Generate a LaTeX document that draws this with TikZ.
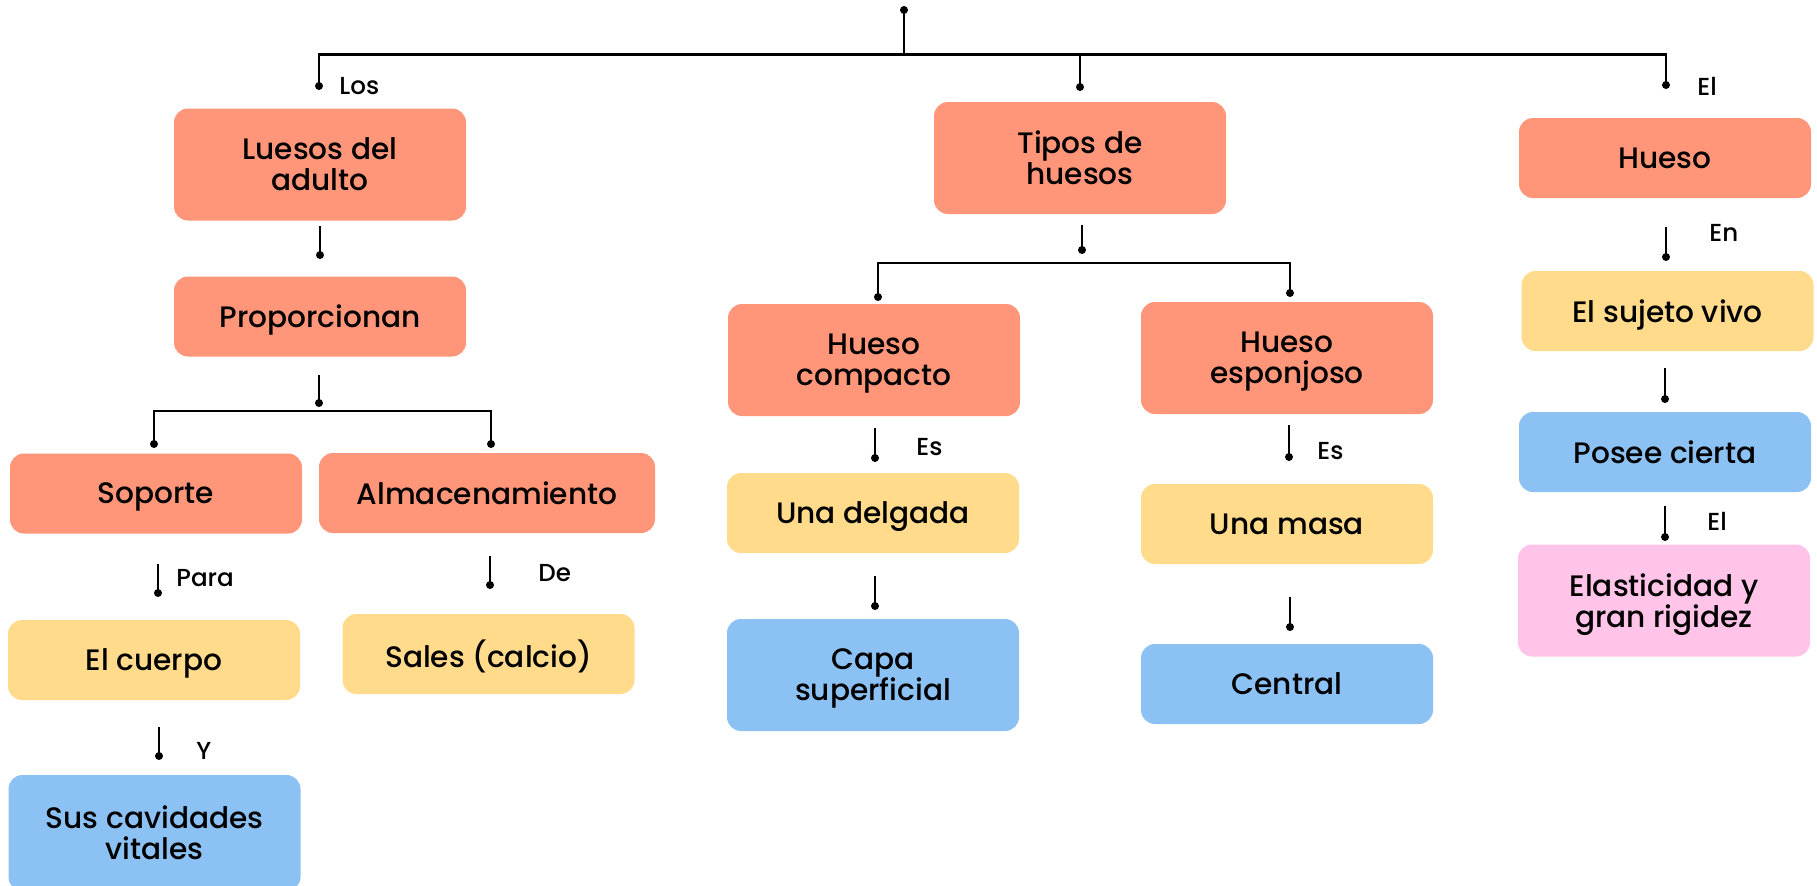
\documentclass[tikz,border=0pt]{standalone}
\usepackage{fontspec}
\setmainfont{Poppins}[UprightFont={* Medium}]
\definecolor{salmon}{RGB}{255,150,122}
\definecolor{yel}{RGB}{255,219,139}
\definecolor{blu}{RGB}{140,193,243}
\definecolor{pnk}{RGB}{255,196,232}
\tikzset{
  box/.style={rectangle, rounded corners=7pt, draw=none, minimum width=146pt, align=center, inner sep=2pt,
    text depth=0pt, font=\fontsize{14.8pt}{15.5pt}\selectfont, text=black},
  hs/.style={box, minimum height=40pt},
  ht/.style={box, minimum height=56pt},
  red/.style={fill=salmon}, yw/.style={fill=yel}, bl/.style={fill=blu}, pk/.style={fill=pnk},
  conn/.style={line width=1.2pt, black},
  dotend/.style={circle, fill=black, inner sep=0pt, minimum size=4pt},
  lbl/.style={font=\fontsize{12.3pt}{14pt}\selectfont, inner sep=0pt, anchor=west}
}
\begin{document}
\begin{tikzpicture}[x=0.5pt,y=-0.5pt]
\useasboundingbox[fill=white] (0,0) rectangle (1817,885);
% boxes
\node[ht,red] (luesos) at (320,164.5) {Luesos del\\adulto};
\node[hs,red] (prop) at (320,316.5) {Proporcionan};
\node[hs,red] (soporte) at (156,493.5) {Soporte};
\node[hs,red,minimum width=168pt] (almac) at (487,493) {Almacenamiento};
\node[hs,yw] (cuerpo) at (154,660) {El cuerpo};
\node[hs,yw] (sales) at (488.5,654) {Sales (calcio)};
\node[box,bl,minimum height=58pt] (cav) at (154.5,833) {Sus cavidades\\vitales};
\node[ht,red] (tipos) at (1080,158) {Tipos de\\huesos};
\node[ht,red] (compacto) at (874,360) {Hueso\\compacto};
\node[ht,red] (esponjoso) at (1287,358) {Hueso\\esponjoso};
\node[hs,yw] (delgada) at (873,513) {Una delgada};
\node[ht,bl] (capa) at (873,675) {Capa\\superficial};
\node[hs,yw] (masa) at (1287,524) {Una masa};
\node[hs,bl] (central) at (1287,684) {Central};
\node[hs,red] (hueso) at (1665,158) {Hueso};
\node[hs,yw] (sujeto) at (1667.5,311) {El sujeto vivo};
\node[hs,bl] (posee) at (1665,452) {Posee cierta};
\node[ht,pk] (elast) at (1664,600.5) {Elasticidad y\\gran rigidez};
% connector points
\coordinate (top) at (904,10);
\coordinate (topj) at (904,54.5);
\coordinate (hl) at (319,54.5);
\coordinate (hm) at (1080,54.5);
\coordinate (hr) at (1666,54.5);
\node[dotend] (d1) at (319,86) {};
\node[dotend] (d2) at (1080,87) {};
\node[dotend] (d3) at (1666,85) {};
\node[dotend] (d0) at (top) {};
\draw[conn] (d0.center) -- (topj);
\draw[conn] (d1.center) -- (hl) -- (hr) -- (d3.center);
\draw[conn] (hm) -- (d2.center);
\node[lbl] (lLos) at (339,86) {Los};
\node[lbl] (lEl1) at (1697,86) {El};
% luesos -> prop
\coordinate (a1) at (320,226);
\node[dotend] (a2) at (320,255) {};
\draw[conn] (a1) -- (a2.center);
% prop tree
\coordinate (b1) at (319,375);
\node[dotend] (b2) at (319,403) {};
\draw[conn] (b1) -- (b2.center);
\coordinate (bl) at (154,411);
\coordinate (br) at (491,411);
\node[dotend] (b3) at (154,444) {};
\node[dotend] (b4) at (491,444) {};
\draw[conn] (b3.center) -- (bl) -- (br) -- (b4.center);
% soporte -> cuerpo
\coordinate (c1) at (158,564);
\node[dotend] (c2) at (158,593) {};
\draw[conn] (c1) -- (c2.center);
\node[lbl] (lPara) at (176,578) {Para};
% almac -> sales
\coordinate (e1) at (490,556);
\node[dotend] (e2) at (490,585) {};
\draw[conn] (e1) -- (e2.center);
\node[lbl] (lDe) at (538,573) {De};
% cuerpo -> cav
\coordinate (f1) at (159,727);
\node[dotend] (f2) at (159,756) {};
\draw[conn] (f1) -- (f2.center);
\node[lbl] (lY) at (196,751) {Y};
% tipos tree
\coordinate (g1) at (1082,225);
\node[dotend] (g2) at (1082,250) {};
\draw[conn] (g1) -- (g2.center);
\coordinate (gl) at (878,263);
\coordinate (gr) at (1290,263);
\node[dotend] (g3) at (878,297) {};
\node[dotend] (g4) at (1290,293) {};
\draw[conn] (g3.center) -- (gl) -- (gr) -- (g4.center);
% compacto -> delgada
\coordinate (h1) at (875,428);
\node[dotend] (h2) at (875,458) {};
\draw[conn] (h1) -- (h2.center);
\node[lbl] (lEs1) at (916,447) {Es};
% esponjoso -> masa
\coordinate (i1) at (1289,425);
\node[dotend] (i2) at (1289,457) {};
\draw[conn] (i1) -- (i2.center);
\node[lbl] (lEs2) at (1317,451) {Es};
% delgada -> capa
\coordinate (j1) at (875,576);
\node[dotend] (j2) at (875,606) {};
\draw[conn] (j1) -- (j2.center);
% masa -> central
\coordinate (k1) at (1290,597);
\node[dotend] (k2) at (1290,627) {};
\draw[conn] (k1) -- (k2.center);
% hueso -> sujeto
\coordinate (m1) at (1666,227);
\node[dotend] (m2) at (1666,257) {};
\draw[conn] (m1) -- (m2.center);
\node[lbl] (lEn) at (1709,233) {En};
% sujeto -> posee
\coordinate (n1) at (1665,368);
\node[dotend] (n2) at (1665,399) {};
\draw[conn] (n1) -- (n2.center);
% posee -> elast
\coordinate (o1) at (1665,506);
\node[dotend] (o2) at (1665,537) {};
\draw[conn] (o1) -- (o2.center);
\node[lbl] (lEl2) at (1707,521) {El};
\end{tikzpicture}
\end{document}
